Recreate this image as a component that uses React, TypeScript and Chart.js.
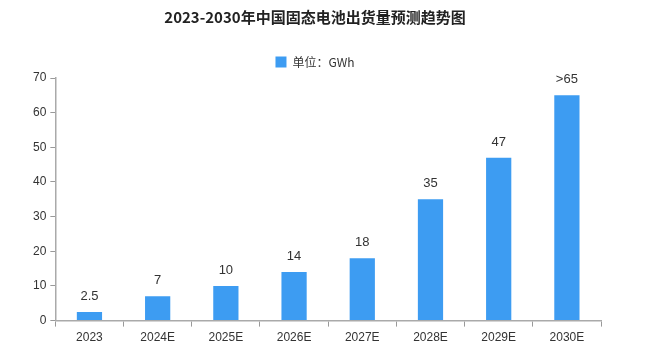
import React, { useEffect, useRef } from "react";
import { Chart, registerables } from "chart.js";

Chart.register(...registerables);

const categories = ["2023", "2024E", "2025E", "2026E", "2027E", "2028E", "2029E", "2030E"];
const values = [2.5, 7, 10, 14, 18, 35, 47, 65];
const valueLabels = ["2.5", "7", "10", "14", "18", "35", "47", ">65"];
const titleText = "2023-2030年中国固态电池出货量预测趋势图";
const seriesName = "单位：GWh";

const barLabelPlugin = {
  id: "barLabels",
  afterDatasetsDraw(chart: any) {
    const ctx = chart.ctx;
    const meta = chart.getDatasetMeta(0);
    ctx.save();
    ctx.font = "13px 'Liberation Sans', 'Noto Sans CJK SC', sans-serif";
    ctx.fillStyle = "#333333";
    ctx.textAlign = "center";
    ctx.textBaseline = "bottom";
    meta.data.forEach((bar: any, i: number) => {
      ctx.fillText(valueLabels[i], bar.x, bar.y - 9);
    });
    ctx.restore();
  },
};

export default function App() {
  const ref = useRef<HTMLCanvasElement>(null);
  useEffect(() => {
    if (!ref.current) return;
    const chart = new Chart(ref.current, {
      type: "bar",
      data: {
        labels: categories,
        datasets: [
          {
            label: seriesName,
            data: values,
            backgroundColor: "#3d9cf2",
            borderWidth: 0,
            barPercentage: 0.37,
            categoryPercentage: 1,
          },
        ],
      },
      options: {
        animation: false,
        responsive: false,
        maintainAspectRatio: false,
        layout: { padding: { left: 29, right: 44, top: 6, bottom: 5 } },
        plugins: {
          title: {
            display: true,
            text: titleText,
            color: "#222222",
            font: { family: "'Noto Sans CJK SC', sans-serif", size: 15, weight: "bold" },
            padding: { top: 2, bottom: 15 },
          },
          legend: {
            display: true,
            labels: {
              boxWidth: 11,
              boxHeight: 11,
              color: "#333333",
              font: { family: "'Noto Sans CJK SC', sans-serif", size: 12 },
              padding: 15,
            },
          },
          tooltip: { enabled: false },
        },
        scales: {
          x: {
            grid: {
              display: true,
              drawOnChartArea: false,
              drawTicks: true,
              tickLength: 6,
              color: "#999999",
              offset: true,
            },
            border: { display: true, color: "#aaaaaa", width: 1.5 },
            ticks: {
              color: "#333333",
              font: { family: "'Liberation Sans', sans-serif", size: 12 },
              padding: 4,
            },
          },
          y: {
            min: 0,
            max: 70,
            grid: {
              display: true,
              drawOnChartArea: false,
              drawTicks: true,
              tickLength: 5,
              color: "#999999",
            },
            border: { display: true, color: "#aaaaaa", width: 1.5 },
            ticks: {
              stepSize: 10,
              color: "#333333",
              font: { family: "'Liberation Sans', sans-serif", size: 12 },
              padding: 4,
            },
          },
        },
      },
      plugins: [barLabelPlugin],
    });
    return () => chart.destroy();
  }, []);
  return (
    <div style={{ position: "fixed", left: 0, top: 0, width: 645, height: 354, background: "#fff" }}>
      <canvas ref={ref} width={645} height={354} style={{ width: 645, height: 354 }} />
    </div>
  );
}
